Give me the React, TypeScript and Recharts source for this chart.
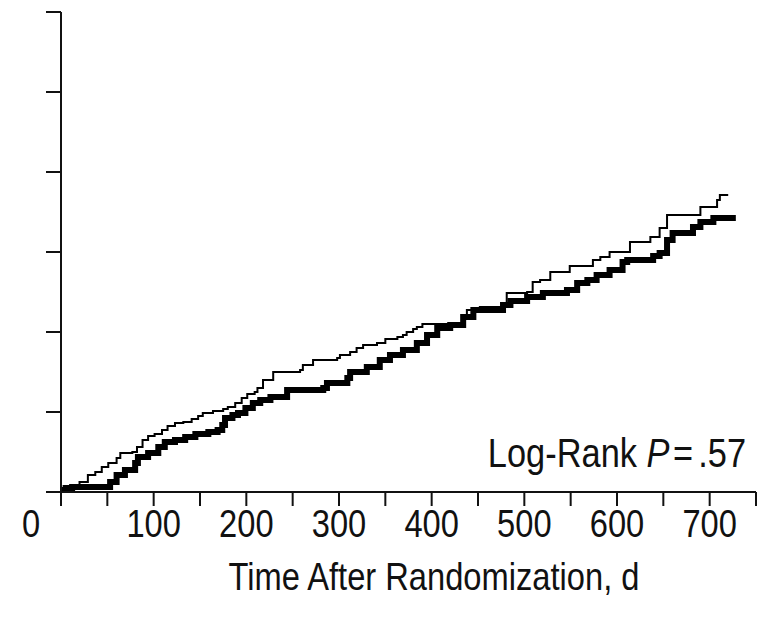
import { LineChart, Line, XAxis, YAxis } from 'recharts';

// thin curve (upper at the end)
const groupADays = [
  0, 10, 20, 29, 37, 44, 51, 60, 64, 77, 82, 88, 94, 101, 109, 115, 123, 132, 141, 148,
  153, 164, 175, 180, 188, 195, 201, 209, 212, 218, 229, 258, 261, 272, 298, 301, 312, 319,
  326, 341, 350, 363, 369, 373, 380, 384, 390, 425, 434, 438, 452, 481, 503, 509, 517, 528,
  549, 574, 582, 592, 614, 636, 646, 654, 677, 690, 708, 711, 720,
];
const groupARisk = [
  0.12, 0.31, 0.63, 1.06, 1.25, 1.56, 1.81, 2.13, 2.44, 2.5, 2.81, 3.25, 3.5, 3.63, 3.88, 4.13, 4.31, 4.38, 4.56, 4.75,
  4.94, 5.06, 5.19, 5.31, 5.56, 5.88, 6.13, 6.25, 6.5, 7.0, 7.5, 7.63, 7.94, 8.25, 8.38, 8.56, 8.75, 9.0,
  9.19, 9.31, 9.56, 9.69, 9.81, 10.0, 10.19, 10.31, 10.5, 10.56, 11.06, 11.38, 11.56, 12.44, 12.5, 13.13, 13.25, 13.75,
  14.13, 14.5, 14.69, 15.0, 15.63, 15.94, 16.5, 17.31, 17.31, 17.81, 18.25, 18.56, 18.56,
];

// thick curve
const groupBDays = [
  0, 5, 12, 50, 53, 60, 69, 80, 83, 94, 105, 112, 123, 134, 145, 159, 169, 174, 177, 185,
  191, 199, 207, 215, 226, 244, 283, 287, 309, 312, 330, 344, 355, 369, 384, 395, 406, 420,
  434, 445, 460, 477, 485, 503, 520, 546, 557, 568, 578, 592, 606, 611, 639, 646, 654, 660,
  682, 690, 704, 725,
];
const groupBRisk = [
  0.12, 0.25, 0.31, 0.31, 0.63, 1.06, 1.38, 1.81, 2.19, 2.44, 2.81, 3.13, 3.25, 3.44, 3.63, 3.75, 3.88, 4.19, 4.63, 4.81,
  4.94, 5.25, 5.56, 5.75, 5.94, 6.38, 6.5, 6.81, 7.13, 7.5, 7.81, 8.25, 8.56, 8.88, 9.31, 9.81, 10.25, 10.44,
  10.94, 11.38, 11.38, 11.69, 11.94, 12.19, 12.44, 12.63, 13.06, 13.25, 13.56, 13.88, 14.38, 14.5, 14.75, 14.94, 15.75, 16.19,
  16.56, 16.88, 17.13, 17.31,
];

const xTicks = [0, 50, 100, 150, 200, 250, 300, 350, 400, 450, 500, 550, 600, 650, 700, 750];
const xTickLabels = ['0', '', '100', '', '200', '', '300', '', '400', '', '500', '', '600', '', '700', ''];
const yTicks = [0, 5, 10, 15, 20, 25, 30];

const FONT = '"Liberation Sans", Arial, Helvetica, sans-serif';

const groupA = groupADays.map((d, i) => ({ day: d, risk: groupARisk[i] }));
const groupB = groupBDays.map((d, i) => ({ day: d, risk: groupBRisk[i] }));

// the original type is a tall, narrow Helvetica, so squeeze it sideways
function NarrowText({ x, y, size, anchor, children }: any) {
  return (
    <text
      transform={`translate(${x} ${y}) scale(0.86 1)`}
      textAnchor={anchor}
      fontSize={size}
      fontFamily={FONT}
      fill="#111"
    >
      {children}
    </text>
  );
}

function DayTick(props: any) {
  const { x, payload } = props;
  const label = xTickLabels[xTicks.indexOf(payload.value)];
  if (!label) return null;
  // the origin label sits left of the axis in the original
  const shift = payload.value === 0 ? -30 : 0;
  return (
    <NarrowText x={x + shift} y={537} size={38} anchor="middle">
      {label}
    </NarrowText>
  );
}

export default function App() {
  return (
    <div style={{ position: 'absolute', left: 0, top: 0, width: 763, height: 618, background: '#fff' }}>
      <LineChart width={763} height={618} margin={{ top: 12, right: 7, bottom: 0, left: 41 }}>
        <XAxis
          type="number"
          dataKey="day"
          domain={[0, 750]}
          ticks={xTicks}
          interval={0}
          allowDataOverflow
          height={126}
          tickSize={14}
          tick={<DayTick />}
          axisLine={{ stroke: '#111', strokeWidth: 2 }}
          tickLine={{ stroke: '#111', strokeWidth: 2 }}
        />
        <YAxis
          type="number"
          domain={[0, 30]}
          ticks={yTicks}
          interval={0}
          width={20}
          tickSize={15}
          tick={() => <g />}
          axisLine={{ stroke: '#111', strokeWidth: 2 }}
          tickLine={{ stroke: '#111', strokeWidth: 2 }}
        />
        <Line
          data={groupB}
          dataKey="risk"
          type="stepAfter"
          stroke="#000"
          strokeWidth={6}
          dot={false}
          isAnimationActive={false}
        />
        <Line
          data={groupA}
          dataKey="risk"
          type="stepAfter"
          stroke="#000"
          strokeWidth={2}
          dot={false}
          isAnimationActive={false}
        />
        <NarrowText x={746} y={467} size={40} anchor="end">
          Log-Rank <tspan fontStyle="italic">P</tspan>
          <tspan dx={4}>=</tspan>
          <tspan dx={6}>.57</tspan>
        </NarrowText>
        <NarrowText x={434} y={590} size={38} anchor="middle">
          Time After Randomization, d
        </NarrowText>
      </LineChart>
    </div>
  );
}
